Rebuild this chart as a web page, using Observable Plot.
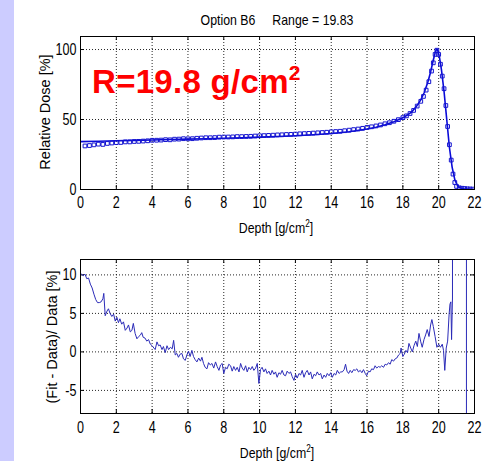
<!DOCTYPE html>
<html>
<head>
<meta charset="utf-8">
<script src="https://cdn.jsdelivr.net/npm/d3@7"></script>
<script src="https://cdn.jsdelivr.net/npm/@observablehq/plot@0.6"></script>
<style>
  html, body { margin: 0; padding: 0; background: #fff; }
  #wrap { position: relative; width: 487px; height: 461px; background: #fff; overflow: hidden; }
  #strip { position: absolute; left: 0; top: 0; width: 14px; height: 461px; background: #ccccff; }
  .lbl { position: absolute; white-space: pre; font-family: "Liberation Sans", Arial, sans-serif; font-size: 15px; color: #000; line-height: 1; }
  .c { transform: translate(-50%, -50%) scaleX(0.82); }
  .r { transform: translate(-50%, -50%) rotate(-90deg); font-size: 14.5px; }
  .plot { position: absolute; left: 0; }
  #note { position: absolute; left: 92px; top: 65px; font-family: "Liberation Sans", Arial, sans-serif; font-weight: bold; font-size: 33px; letter-spacing: 0.3px; color: #ff0000; white-space: pre; line-height: 1; }
  #note sup { font-size: 21px; vertical-align: 13px; line-height: 0; }
</style>
</head>
<body>
<div id="wrap">
  <div id="strip"></div>
  <div class="lbl c" style="left:277px; top:19px;">Option B6     Range = 19.83</div>
  <div class="lbl r" style="left:45px; top:112px;">Relative Dose [%]</div>
  <div class="lbl c" style="left:276px; top:227px;">Depth [g/cm<sup style="font-size:10px">2</sup>]</div>
  <div class="lbl r" style="left:52px; top:337px;">(Fit - Data)/ Data [%]</div>
  <div class="lbl c" style="left:277px; top:452px;">Depth [g/cm<sup style="font-size:10px">2</sup>]</div>
</div>
<script>
// ---- data ----
const xTicks = [0, 2, 4, 6, 8, 10, 12, 14, 16, 18, 20, 22];
const doseTicks = [0, 50, 100];
const resTicks = [-5, 0, 5, 10];

// fitted depth-dose curve (line)
const fitDepth = [0,1,2,3,4,5,6,7,8,9,10,11,12,13,14,15,16,16.5,17,17.5,18,18.25,18.5,18.75,19,19.2,19.4,19.55,19.7,19.8,19.87,19.95,20.05,20.15,20.3,20.45,20.6,20.75,20.9,21.05,21.2,21.4,21.7,22];
const fitDose  = [34.2,34.5,34.8,35.1,35.4,35.7,36.0,36.3,36.6,37.0,37.4,37.9,38.4,39.1,40.0,41.3,43.2,44.5,46.2,48.4,51.2,53.2,55.5,59.2,64,69.5,77,84,92.5,97.5,100.2,99.5,94,86,70,50,30,16,7,2.8,1.2,0.5,0.3,0.2];

// measured points (open squares)
const dataDepth = [0.25,0.5,0.75,1,1.25,1.5,1.75,2,2.25,2.5,2.75,3,3.25,3.5,3.75,4,4.25,4.5,4.75,5,5.25,5.5,5.75,6,6.25,6.5,6.75,7,7.25,7.5,7.75,8,8.25,8.5,8.75,9,9.25,9.5,9.75,10,10.25,10.5,10.75,11,11.25,11.5,11.75,12,12.25,12.5,12.75,13,13.25,13.5,13.75,14,14.25,14.5,14.75,15,15.25,15.5,15.75,16,16.25,16.5,16.75,17,17.25,17.5,17.75,18,18.2,18.4,18.6,18.8,19,19.15,19.3,19.45,19.6,19.7,19.8,19.9,20,20.1,20.2,20.3,20.4,20.5,20.6,20.7,20.8,20.9,21,21.15,21.3,21.45,21.6,21.75,21.9];
const dataDose  = [31.1,31.4,31.9,32.4,32.2,32.9,33.2,33.5,33.6,34.0,34.0,34.3,34.4,34.6,34.8,35.15,35.2,35.3,35.6,35.5,35.95,36.0,36.3,36.2,36.3,36.6,36.8,37.0,37.0,37.1,37.4,37.5,37.5,37.6,37.8,37.8,37.9,38.0,38.2,38.4,38.5,38.65,38.8,39.0,39.1,39.3,39.4,39.6,39.8,39.95,40.1,40.3,40.5,40.7,40.9,41.2,41.4,41.6,42.0,42.4,42.8,43.2,43.7,44.35,44.8,45.4,46.1,46.95,47.7,48.75,49.9,51.35,52.6,54.3,56.5,59.6,63.0,66.5,71,77,84.6,90.5,96.5,99.5,96.5,89.5,81,72,60,45,32,21,11,5,2.2,1.2,0.9,0.7,0.5,0.4,0.3];

// residuals (Fit - Data)/Data [%]
const resDepth = [0.05,0.15,0.25,0.35,0.45,0.55,0.65,0.75,0.85,0.95,1.05,1.15,1.25,1.3,1.38,1.48,1.56,1.65,1.75,1.85,1.94,2.03,2.12,2.2,2.3,2.4,2.5,2.6,2.68,2.78,2.87,2.95,3.05,3.15,3.25,3.35,3.42,3.5,3.6,3.7,3.8,3.9,4.0,4.1,4.17,4.27,4.36,4.45,4.55,4.63,4.73,4.83,4.92,5.02,5.12,5.2,5.29,5.38,5.47,5.56,5.66,5.75,5.85,5.94,6.03,6.12,6.22,6.31,6.4,6.5,6.6,6.7,6.78,6.87,6.96,7.06,7.15,7.25,7.34,7.44,7.54,7.63,7.73,7.82,7.91,8.0,8.1,8.19,8.28,8.38,8.47,8.56,8.66,8.75,8.85,8.94,9.03,9.12,9.22,9.31,9.4,9.5,9.59,9.68,9.78,9.87,9.96,10.05,10.14,10.24,10.33,10.42,10.52,10.61,10.7,10.8,10.89,10.98,11.08,11.17,11.26,11.36,11.45,11.54,11.64,11.73,11.82,11.92,12.01,12.1,12.2,12.29,12.38,12.48,12.57,12.66,12.76,12.85,12.94,13.04,13.13,13.22,13.32,13.41,13.5,13.6,13.69,13.78,13.88,13.97,14.06,14.16,14.25,14.34,14.44,14.53,14.62,14.72,14.8,14.88,14.97,15.06,15.15,15.25,15.34,15.43,15.52,15.62,15.71,15.8,15.9,15.98,16.08,16.17,16.26,16.36,16.45,16.54,16.64,16.73,16.82,16.92,17.01,17.1,17.2,17.29,17.38,17.48,17.57,17.66,17.76,17.85,17.9,18.0,18.08,18.17,18.26,18.34,18.44,18.53,18.62,18.72,18.81,18.9,19.0,19.08,19.18,19.27,19.36,19.46,19.55,19.62,19.7,19.8,19.9,20.0,20.1,20.2,20.27,20.34,20.42,20.5,20.58,20.63,20.68,20.72,20.77,20.82,21.55,21.55];
const resValue = [10.1,9.9,10.1,9.5,9.6,8.8,8.3,7.5,6.8,6.4,6.4,6.5,6.9,7.6,4.7,5.3,5.6,5.0,4.6,4.9,4.0,4.5,3.8,4.3,3.6,3.9,2.8,3.1,3.5,2.6,2.8,3.7,2.4,1.7,2.0,2.2,2.5,1.9,1.8,1.4,1.6,1.0,0.8,0.5,0.3,1.3,0.8,0.9,0.3,0.7,-0.1,0.8,0.3,0.6,0.4,1.5,-0.4,-0.2,-0.7,-0.3,-0.2,-0.9,-1.1,-0.4,0.1,-0.6,0.2,-0.6,-1.0,-1.3,-0.8,-1.2,-0.7,-1.5,-2.0,-2.2,-1.4,-1.7,-1.5,-2.1,-1.3,-1.9,-2.4,-1.7,-1.5,-2.8,-2.0,-2.2,-1.6,-1.8,-2.5,-1.9,-2.4,-2.0,-2.6,-1.5,-2.1,-2.4,-1.8,-2.6,-2.0,-2.3,-1.9,-2.4,-2.1,-1.5,-4.1,-2.3,-2.0,-2.6,-2.2,-2.8,-2.5,-3.0,-2.4,-2.9,-2.6,-3.3,-2.7,-2.9,-2.4,-3.0,-3.1,-2.5,-2.8,-2.6,-3.2,-3.7,-2.9,-3.4,-2.8,-3.0,-2.4,-3.3,-2.7,-2.4,-3.0,-2.6,-3.5,-2.9,-3.1,-2.6,-3.0,-2.8,-3.5,-3.0,-3.3,-2.8,-3.1,-2.7,-3.3,-2.8,-3.0,-2.4,-2.8,-2.6,-2.6,-2.3,-1.6,-2.5,-2.8,-2.4,-2.7,-2.3,-2.4,-2.2,-2.6,-2.4,-2.7,-2.3,-2.8,-3.1,-2.5,-2.6,-2.2,-2.3,-1.8,-2.1,-1.9,-2.0,-1.8,-2.0,-1.6,-1.7,-1.4,-1.6,-1.0,-1.2,-0.9,-0.8,-0.4,-0.2,0.5,-0.6,-0.3,0.2,-0.1,1.1,0.5,0.0,0.8,1.4,0.7,2.4,1.3,0.6,1.6,2.2,2.9,2.0,3.5,4.2,3.3,2.0,0.6,1.0,0.6,1.0,0.2,-2.4,0.5,1.4,4.8,6.2,6.5,1.6,7.0,300,300,-300];

// ---- build tables ----
const fitRows = fitDepth.map((d, i) => ({depth: d, dose: fitDose[i]}));
const measRows = dataDepth.map((d, i) => ({depth: d, dose: dataDose[i]}));
const resRows = resDepth.map((d, i) => ({depth: d, value: resValue[i]}));

const FONT = '"Liberation Sans", Arial, sans-serif';
const innerTicks = [2,4,6,8,10,12,14,16,18,20];

function frameMarks(yTicks, frameH, yGrid, xPad) {
  return [
    Plot.ruleX(innerTicks, {stroke: "#000", strokeDasharray: "1,2", strokeOpacity: 0.85}),
    Plot.ruleY(yGrid, {stroke: "#000", strokeDasharray: "1,2", strokeOpacity: 0.85}),
    Plot.ruleX(xTicks, {stroke: "#000", insetTop: frameH - 4}),
    Plot.ruleX(xTicks, {stroke: "#000", insetBottom: frameH - 4}),
    Plot.ruleY(yTicks, {stroke: "#000", insetRight: 394 - 4}),
    Plot.ruleY(yTicks, {stroke: "#000", insetLeft: 394 - 4}),
    Plot.axisX({ticks: xTicks, tickSize: 0, tickPadding: xPad, label: null, fontSize: 17, tickFormat: d => String(d)}),
    Plot.axisY({ticks: yTicks, tickSize: 0, tickPadding: 4, label: null, fontSize: 17, tickFormat: d => String(d)}),
  ];
}

// narrow the tick labels horizontally (the original uses a condensed face)
function condense(svg, s) {
  svg.querySelectorAll('g[aria-label$="tick label"] text').forEach(t => {
    const tr = t.getAttribute("transform");
    if (tr) {
      t.setAttribute("transform", tr + ` scale(${s},1)`);
    } else {
      const x = +(t.getAttribute("x") || 0), y = +(t.getAttribute("y") || 0);
      t.removeAttribute("x"); t.removeAttribute("y");
      t.setAttribute("transform", `translate(${x},${y}) scale(${s},1)`);
    }
  });
}

const topPlot = Plot.plot({
  width: 487, height: 240,
  marginLeft: 80, marginRight: 13, marginTop: 36, marginBottom: 51,
  style: {fontFamily: FONT, background: "transparent", overflow: "visible"},
  x: {domain: [0, 22]},
  y: {domain: [0, 109.3]},
  marks: [
    ...frameMarks(doseTicks, 153, [50, 100], 6),
    Plot.line(fitRows, {x: "depth", y: "dose", stroke: "#0a0ad8", strokeWidth: 1.6, clip: true}),
    Plot.dot(measRows, {x: "depth", y: "dose", symbol: "square", r: 2.1, stroke: "#1414d0", strokeWidth: 1, fill: "none", clip: true}),
    Plot.frame({stroke: "#000"})
  ]
});
condense(topPlot, 0.74);
topPlot.classList.add("plot");
topPlot.style.top = "0px";

const bottomPlot = Plot.plot({
  width: 487, height: 221,
  marginLeft: 80, marginRight: 13, marginTop: 19, marginBottom: 48,
  style: {fontFamily: FONT, background: "transparent", overflow: "visible"},
  x: {domain: [0, 22]},
  y: {domain: [-8, 12]},
  marks: [
    ...frameMarks(resTicks, 154, [-5, 0, 5, 10], 7),
    Plot.line(resRows, {x: "depth", y: "value", stroke: "#2b2bb8", strokeWidth: 1, clip: true}),
    Plot.frame({stroke: "#000"})
  ]
});
condense(bottomPlot, 0.74);
bottomPlot.classList.add("plot");
bottomPlot.style.top = "240px";

const wrap = document.getElementById("wrap");
wrap.insertBefore(topPlot, wrap.children[1]);
wrap.insertBefore(bottomPlot, wrap.children[1]);

const note = document.createElement("div");
note.id = "note";
note.innerHTML = "R=19.8 g/cm<sup>2</sup>";
wrap.appendChild(note);
</script>
</body>
</html>
